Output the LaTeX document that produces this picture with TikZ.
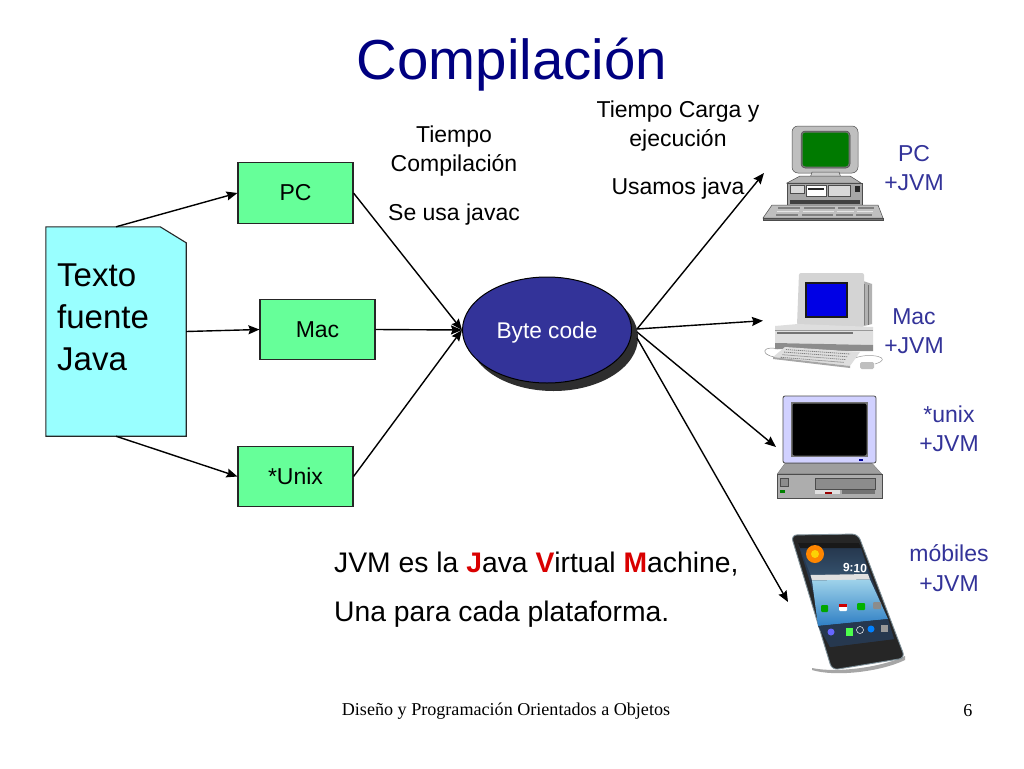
\documentclass[tikz,border=0pt]{standalone}
\usepackage{fontspec}
\setmainfont{Liberation Sans}
\newfontfamily\serifface{Liberation Serif}
\usetikzlibrary{arrows.meta,calc,shapes.geometric}
\definecolor{navyT}{HTML}{000080}
\definecolor{labelB}{HTML}{333399}
\definecolor{boxG}{HTML}{66FF99}
\definecolor{docC}{HTML}{99FFFF}
\definecolor{ovalB}{HTML}{333399}
\definecolor{skyA}{HTML}{9FD3EA}
\definecolor{skyB}{HTML}{2F7FC4}
\definecolor{slateA}{HTML}{34506B}
\definecolor{slateB}{HTML}{26384F}
\newcommand{\fs}[2]{\fontsize{#1}{#2}\selectfont}
\begin{document}
\begin{tikzpicture}[x=1pt,y=-1pt,
  greenbox/.style={draw=black!85,fill=boxG,line width=1.1pt,minimum width=115pt,minimum height=60.5pt,inner sep=0pt,font=\fs{23}{28}},
  link/.style={draw=black,line width=1.4pt,-{Stealth[length=11pt,width=9pt,inset=1.5pt]}},
  lbl/.style={align=center,inner sep=0pt,font=\fs{23}{29.5},text=black},
  jvm/.style={align=center,inner sep=0pt,font=\fs{23}{29.5},text=labelB},
  big/.style={anchor=base west,inner sep=0pt,font=\fs{28.3}{30}},
  gr/.style={line width=.5pt,draw=black!70}]
\useasboundingbox (0,0) rectangle (1024,768);
\fill[white] (0,0) rectangle (1024,768);

% title and footer
\node[inner sep=0pt,text=navyT,font=\fs{56.4}{60}] (title) at (512,65) {Compilación};
\node[inner sep=0pt,font=\serifface\fs{18.1}{22}] (foot) at (506,711) {Diseño y Programación Orientados a Objetos};
\node[inner sep=0pt,font=\serifface\fs{18.1}{22}] (page) at (968,711) {6};

% source document
\node[minimum width=140pt,minimum height=209pt,inner sep=0pt] (doc) at (116,331.5) {};
\draw[fill=docC,draw=black!85,line width=1.1pt] (doc.north west) -- ($(doc.north east)+(-26,0)$) -- ($(doc.north east)+(0,16)$) -- (doc.south east) -- (doc.south west) -- cycle;
\node[anchor=west,align=left,inner sep=0pt,font=\fs{33}{42}] (doctext) at (57,317.5) {Texto\\fuente\\Java};

% boxes
\node[greenbox] (pc) at (295.5,193) {PC};
\node[greenbox] (mac) at (317.5,329.5) {Mac};
\node[greenbox] (unix) at (295.5,476.5) {*Unix};

% byte code
\fill[black!82] (553.5,337.5) ellipse (84.5 and 53.5);
\node[ellipse,draw=black,fill=ovalB,line width=1pt,minimum width=169pt,minimum height=106pt,inner sep=0pt,text=white,font=\fs{22.7}{28}] (byte) at (547,330) {\raisebox{-8pt}[0pt][0pt]{Byte code}};
\coordinate (byteout) at (637,329);
\coordinate (tippc) at (764,173);
\coordinate (tipmac) at (763,320.7);
\coordinate (tipunix) at (776,447);
\coordinate (tipmob) at (788,602);

% connectors
\draw[link] (doc.north) -- (pc.west);
\draw[link] (doc.east) -- (mac.west);
\draw[link] (doc.south) -- (unix.west);
\draw[link] (pc.east) -- (byte.west);
\draw[link] (mac.east) -- (byte.west);
\draw[link] (unix.east) -- (byte.west);
\draw[link] (byteout) -- (tippc);
\draw[link] (byteout) -- (tipmac);
\draw[link] ($(byteout)+(0,3)$) -- (tipunix);
\draw[link] ($(byteout)+(0,9)$) -- (tipmob);

% texts
\node[lbl] (t1) at (454,151) {Tiempo\\Compilación};
\node[lbl] (t2) at (454,215) {Se usa javac};
\node[lbl] (t3) at (678,126) {Tiempo Carga y\\ejecución};
\node[lbl] (t4) at (678,189) {Usamos java};
\node[jvm] (j1) at (914,168) {PC\\+JVM};
\node[jvm] (j2) at (914,331) {Mac\\+JVM};
\node[jvm] (j3) at (949,429) {*unix\\+JVM};
\node[jvm] (j4) at (949,568) {móbiles\\+JVM};
\node[big] (n1) at (334,572) {JVM es la \textcolor{red!85!black}{\textbf{J}}ava \textcolor{red!85!black}{\textbf{V}}irtual \textcolor{red!85!black}{\textbf{M}}achine,};
\node[big] (n2) at (334,621) {Una para cada plataforma.};

% PC computer
\draw[gr,fill=black!25,rounded corners=6pt] (792,126) rectangle (858,173);
\draw[gr,fill=black!55,rounded corners=4pt] (801,131) rectangle (850,168);
\fill[green!48!black,rounded corners=3pt] (802.5,132.5) rectangle (848.5,166.5);
\draw[gr,fill=black!20] (812,172) -- (839,172) -- (841,178) -- (810,178) -- cycle;
\draw[gr,fill=black!30] (800,176) -- (850,176) -- (861,183) -- (787,183) -- cycle;
\draw[gr,fill=black!35] (787,183) rectangle (862,205);
\draw[gr,fill=black!15] (790,185) rectangle (804,193);
\draw[gr,fill=white] (806,185) rectangle (826,196);
\fill[black!85] (808,188) rectangle (824,190);
\draw[gr,fill=black!15] (828,185) rectangle (850,196);
\fill[black!85] (855,186) rectangle (860,192);
\fill[black!75] (790,200) rectangle (860,204);
\draw[gr,fill=black!25] (772,205) -- (878,205) -- (883,218) -- (763,218) -- cycle;
\draw[gr,fill=black!55] (763,218) rectangle (883,220);
\foreach \a/\b in {778/800,804/835,838/855,858/874}{
  \fill[black!50] (\a,207) rectangle (\b,209);
  \fill[black!10] (\a-1,210.5) rectangle (\b-1,212);
  \fill[black!50] (\a-2,213.5) rectangle (\b-2,216);
}

% Mac computer
\fill[black!30] (860,280) -- (872,284) -- (872,324) -- (860,327) -- cycle;
\draw[black!55,line width=.4pt] (864,284)--(864,325) (868,285)--(868,325);
\fill[black!17,rounded corners=2pt] (799,273) -- (864,273) -- (864,327) -- (797,325) -- cycle;
\fill[black!90] (805,282) rectangle (848,318);
\fill[blue!90!black] (807,284) rectangle (846,316);
\fill[black!13] (775,326) -- (798,324) -- (873,327) -- (873,345) -- (775,343) -- cycle;
\fill[black!55] (777,332) rectangle (853,334);
\draw[black!40,line width=.5pt] (775,330)--(873,330);
\fill[black!45] (775,343) -- (873,345) -- (873,351) -- (845,351) -- (775,349) -- cycle;
\draw[black!45,line width=.5pt] (778,349) .. controls (762,345) and (760,355) .. (775,357);
\draw[black!40,line width=.5pt] (855,358) .. controls (870,352) and (895,358) .. (875,364);
\fill[black!13] (785,347) -- (860,352) -- (850,366) -- (773,357) -- cycle;
\foreach \k in {0,1,2,3}{
  \draw[black!50,line width=.8pt,dash pattern=on 1.2pt off .8pt] (786-\k*1.8,349.5+\k*2.6) -- (850-\k*2,354+\k*2.8);
}
\fill[black!35] (773,357) -- (850,366) -- (850,368) -- (773,359) -- cycle;
\fill[black!25,rounded corners=1.5pt] (860,362) rectangle (874,369);

% Unix computer
\fill[black!55] (785,463) -- (872,463) -- (882,474) -- (777,474) -- cycle;
\fill[black!38] (785,463.5) -- (872,463.5) -- (881,473.5) -- (778,473.5) -- cycle;
\draw[gr,fill=black!32] (777,474) rectangle (882,498);
\draw[gr,fill=black!45] (780,478) rectangle (788,486);
\fill[green!50!black] (780,490) rectangle (785,493);
\draw[gr,fill=black!45] (815,478) rectangle (875,489);
\fill[black!12] (815,489.5) rectangle (840,494);
\fill[red!60!black] (825,492) rectangle (832,494);
\fill[black!55] (842,489.5) rectangle (875,494);
\draw[black!70,line width=.8pt,fill=blue!18!white,rounded corners=2pt] (783,396) rectangle (876,463);
\fill[black!55] (791,402) rectangle (868,457);
\fill[black,rounded corners=2pt] (792.5,403.5) rectangle (866.5,455.5);
\fill[blue!60!black] (859,459) rectangle (863,460.5);

% mobile phone
\fill[black!35] (812,668) .. controls (835,673) and (880,668) .. (905,656) -- (905,660) .. controls (880,672) and (835,677) .. (812,670) -- cycle;
\fill[black!85,rounded corners=6pt] (791,535) -- (858,534) -- (905,658) -- (832,670) -- cycle;
\draw[cyan!30!black!65,line width=.9pt,rounded corners=6pt] (791,535) -- (858,534) -- (905,658) -- (832,670) -- cycle;
\fill[slateB] (798,543) -- (859,543) -- (894,639) -- (830,647) -- cycle;
\shade[top color=slateB,bottom color=slateA] (800,548) -- (861,548) -- (868,574) -- (810.5,575) -- cycle;
\fill[black!90] (798,543) -- (859,543) -- (861,548) -- (800,548) -- cycle;
\fill[orange!95!yellow] (815,554) circle (9);
\fill[yellow!70!orange] (815,554) circle (4);
\fill[white!88!black] (810.5,575) -- (868,574) -- (870,579.5) -- (812,580.5) -- cycle;
\shade[top color=skyA,bottom color=skyB] (812,580.5) -- (870,579.5) -- (888,619) -- (818,626) -- cycle;
\node[inner sep=0pt,text=white,rotate=-3,font=\bfseries\fs{12}{14}] (clock) at (855,568) {9:10};
\fill[green!65!black,rounded corners=1pt] (821,605) rectangle (828,612);
\fill[white,rounded corners=1pt] (839,604) rectangle (847,611);
\fill[red!80!black] (839,604) rectangle (847,606.5);
\fill[green!70!black,rounded corners=1pt] (857,603) rectangle (865,610);
\fill[black!45,rounded corners=1pt] (873,602) rectangle (881,609);
\fill[slateB] (818,626) -- (888,619) -- (894,639) -- (830,647) -- cycle;
\fill[blue!60] (831,632) circle (3.5);
\fill[green!70!white] (846,628) rectangle (853,636);
\draw[white,line width=.5pt] (860,630) circle (3.5);
\fill[blue!50!cyan] (871,629) circle (3.5);
\fill[black!40] (881,625) rectangle (888,632);
\end{tikzpicture}
\end{document}
